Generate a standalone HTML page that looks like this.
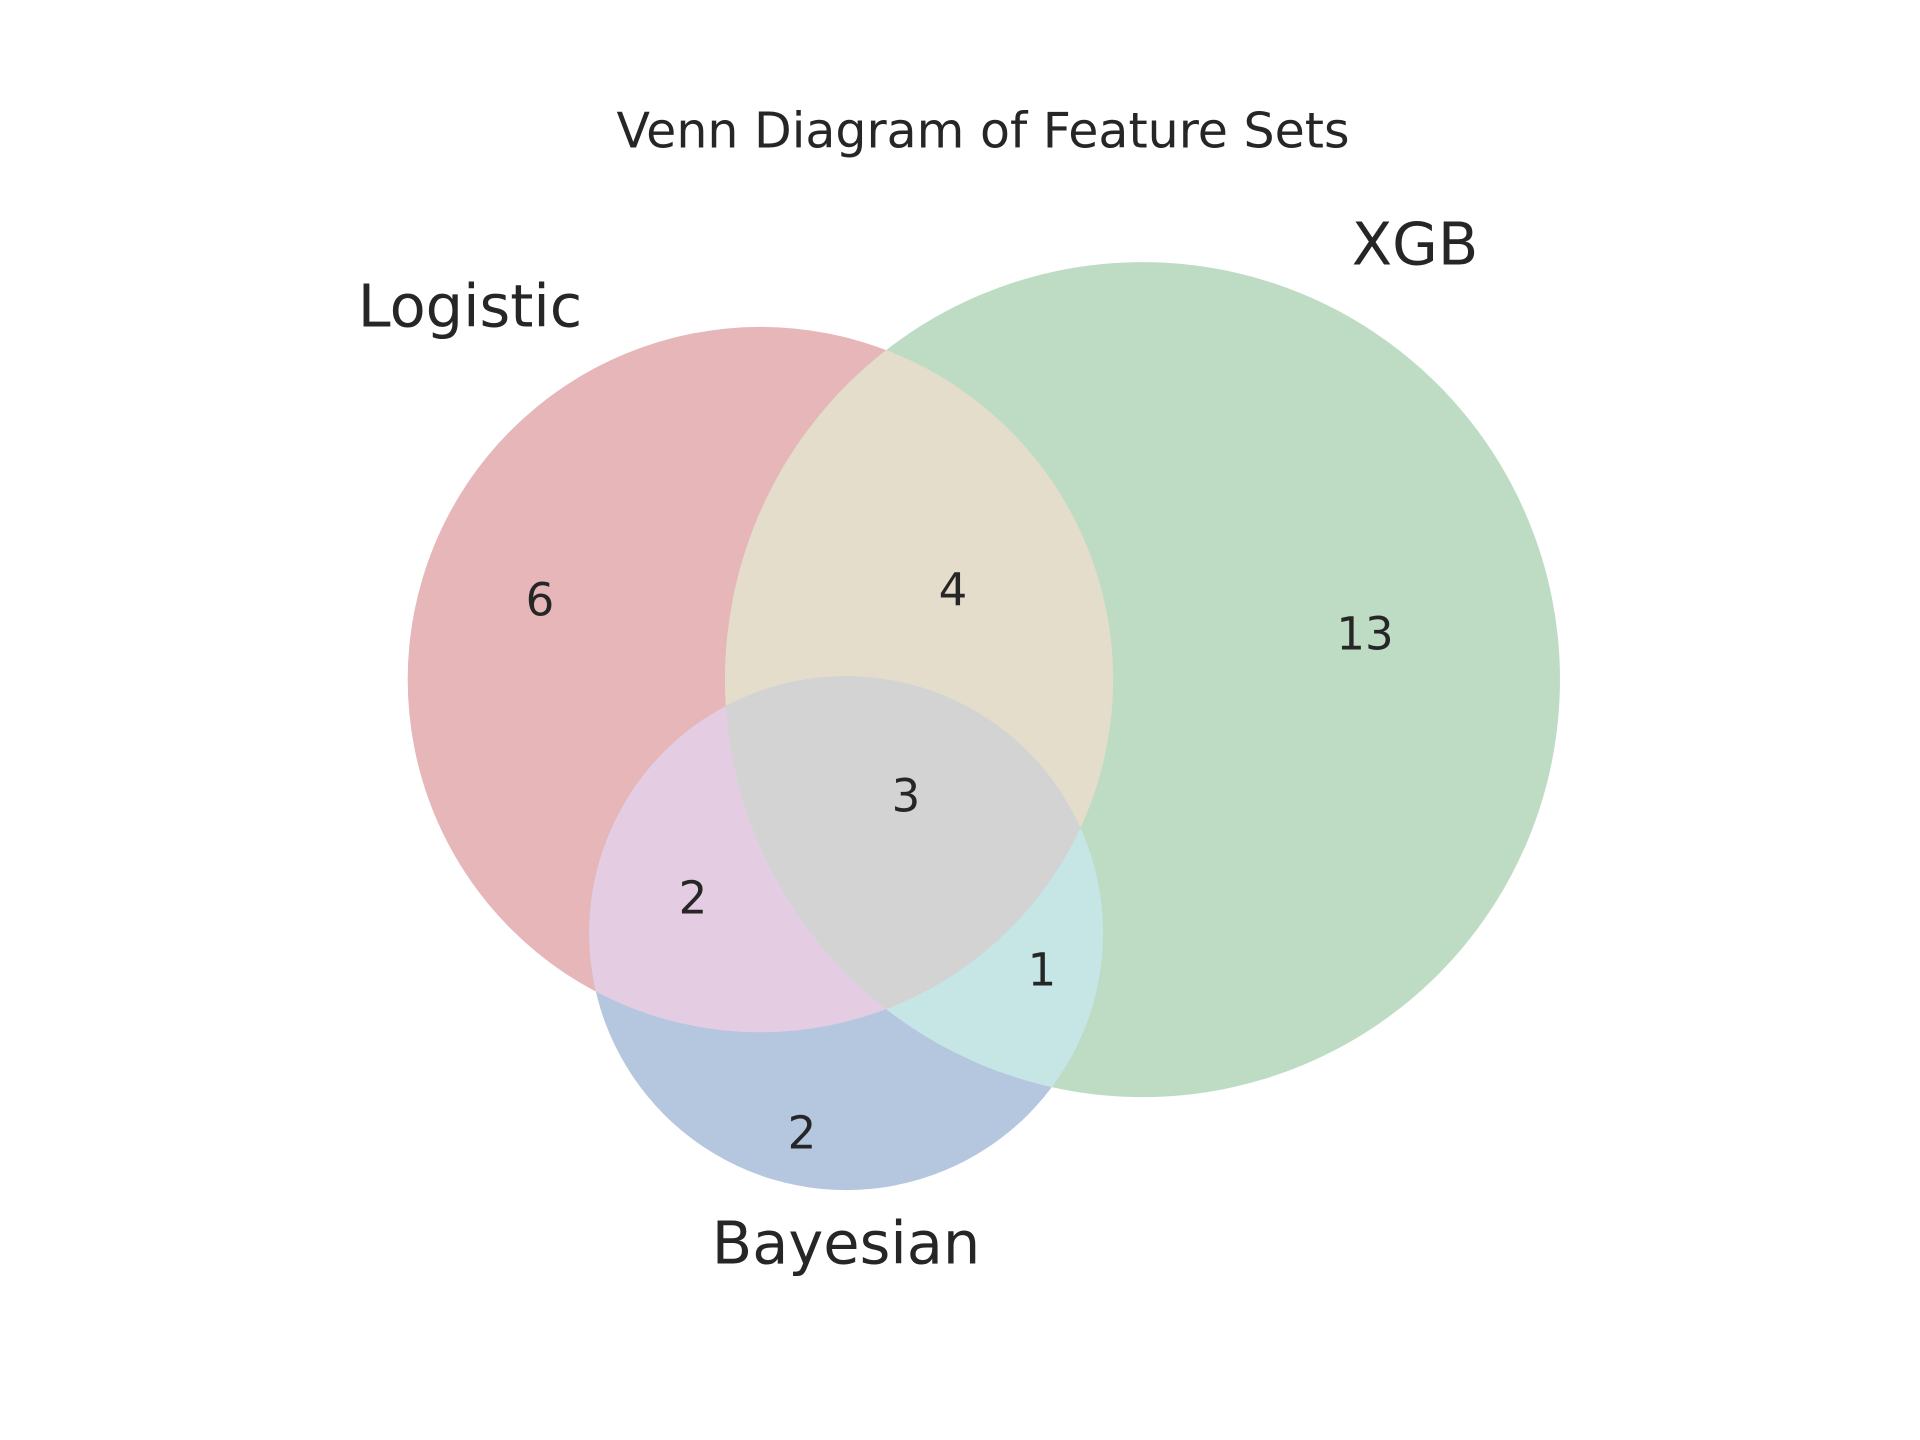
<!DOCTYPE html>
<html><head><meta charset="utf-8"><style>
html,body{margin:0;padding:0;background:#fff;}
svg{display:block;}
text{font-family:"DejaVu Sans","Liberation Sans",sans-serif;fill:#262626;text-anchor:middle;dominant-baseline:central;}
</style></head><body>
<svg width="1920" height="1440" viewBox="0 0 1920 1440" xmlns="http://www.w3.org/2000/svg">
<defs>
<clipPath id="cL"><circle cx="760.4" cy="679.6" r="352.7"/></clipPath>
<clipPath id="cX"><circle cx="1142.5" cy="679.6" r="417.5"/></clipPath>
<clipPath id="cB"><circle cx="846.1" cy="933.1" r="257"/></clipPath>
</defs>
<rect width="1920" height="1440" fill="#fff"/>
<circle cx="760.4" cy="679.6" r="352.7" fill="#e6b6b8"/>
<circle cx="1142.5" cy="679.6" r="417.5" fill="#bedcc4"/>
<circle cx="846.1" cy="933.1" r="257" fill="#b5c6df"/>
<g clip-path="url(#cL)"><circle cx="1142.5" cy="679.6" r="417.5" fill="#e5ddcc"/></g>
<g clip-path="url(#cL)"><circle cx="846.1" cy="933.1" r="257" fill="#e4cde2"/></g>
<g clip-path="url(#cX)"><circle cx="846.1" cy="933.1" r="257" fill="#c6e6e6"/></g>
<g clip-path="url(#cL)"><g clip-path="url(#cX)"><circle cx="846.1" cy="933.1" r="257" fill="#d3d3d3"/></g></g>
<text x="983" y="131" font-size="49">Venn Diagram of Feature Sets</text>
<text x="470" y="306" font-size="59">Logistic</text>
<text x="1415" y="244" font-size="59">XGB</text>
<text x="846" y="1243" font-size="59">Bayesian</text>
<text x="540" y="600" font-size="45">6</text>
<text x="953" y="590" font-size="45">4</text>
<text x="1365" y="634" font-size="45">13</text>
<text x="906" y="796" font-size="45">3</text>
<text x="693" y="898" font-size="45">2</text>
<text x="1042" y="970" font-size="45">1</text>
<text x="802" y="1133" font-size="45">2</text>
</svg>
</body></html>
